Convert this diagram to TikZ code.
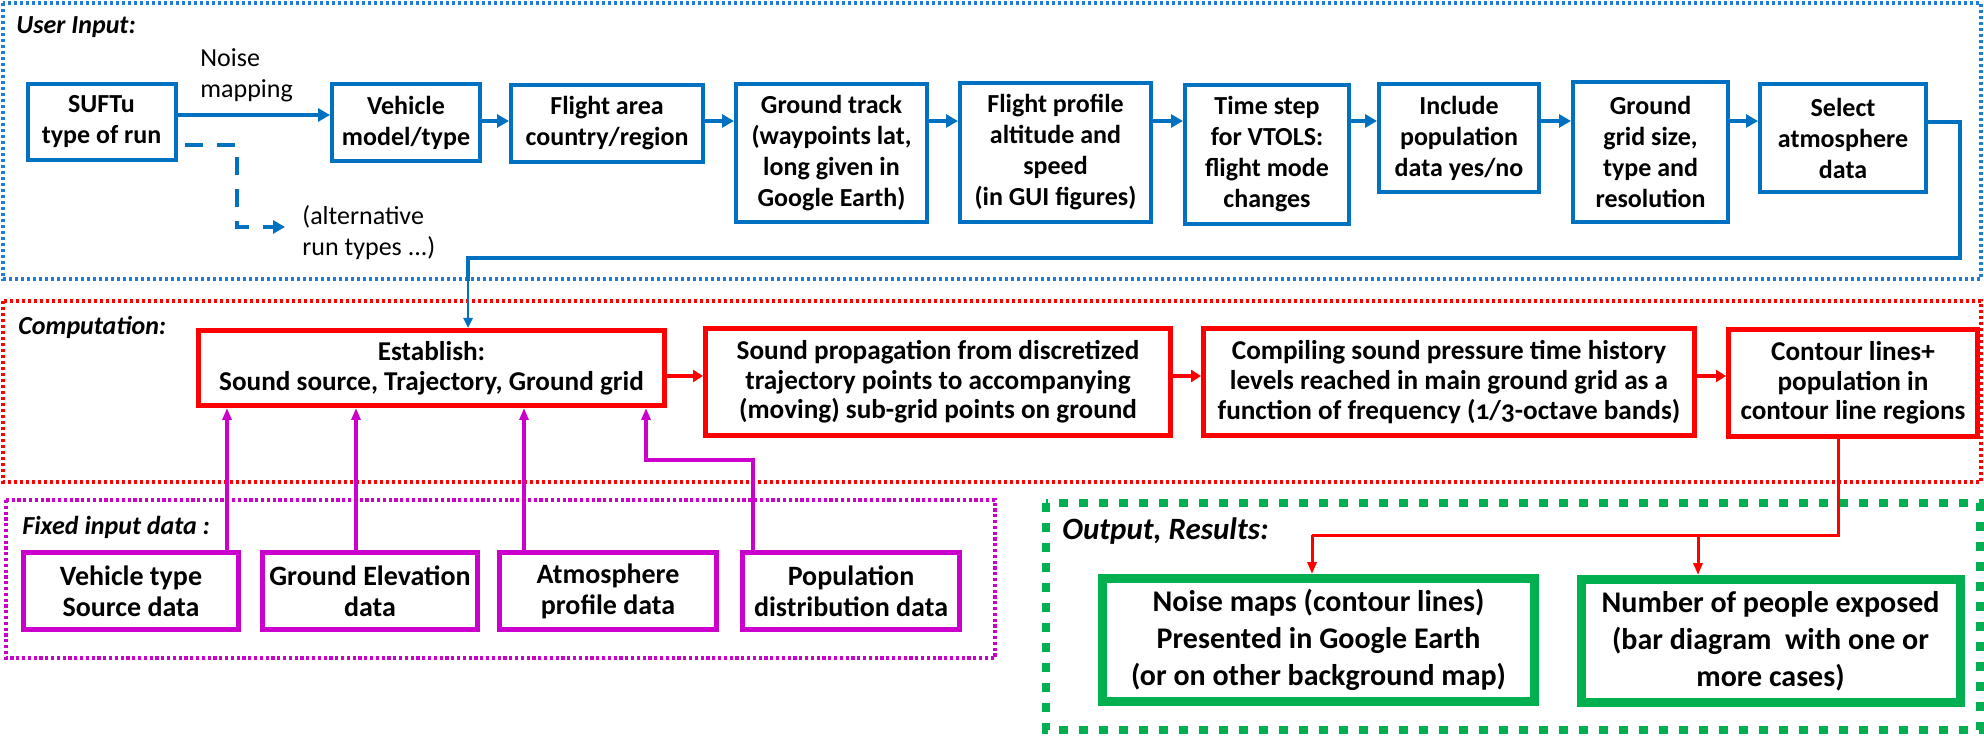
\documentclass[tikz,border=0pt]{standalone}
\usepackage{fontspec}
\setmainfont{Carlito}
\usetikzlibrary{arrows.meta,calc}
\definecolor{ublue}{RGB}{0,112,192}
\definecolor{fblue}{RGB}{30,125,215}
\definecolor{cred}{RGB}{255,0,0}
\definecolor{cmag}{RGB}{204,0,204}
\definecolor{cgreen}{RGB}{0,176,80}
\tikzset{
  sz/.style 2 args={minimum width=#1*0.5pt, minimum height=#2*0.5pt},
  basebox/.style={align=center, inner sep=1pt, text=black},
  ubox/.style={basebox, draw=ublue, line width=2pt, font=\bfseries\fontsize{13}{15.5}\selectfont},
  cbox/.style={basebox, draw=cred, line width=2.5pt, font=\bfseries\fontsize{13.6}{14.8}\selectfont},
  fbox/.style={basebox, draw=cmag, line width=2.5pt, font=\bfseries\fontsize{14}{15.5}\selectfont},
  obox/.style={basebox, draw=cgreen, line width=4.5pt, font=\bfseries\fontsize{15}{18.5}\selectfont},
  ftitle/.style={anchor=west, inner sep=0pt, font=\bfseries\itshape\fontsize{13}{15}\selectfont},
  plain/.style={anchor=west, inner sep=0pt, align=left, font=\fontsize{13}{15.5}\selectfont},
  ufr/.style={draw=fblue, line width=2.2pt, dash pattern=on 1.7pt off 1.3pt},
  cfr/.style={draw=cred, line width=2pt, dash pattern=on 1.7pt off 1.3pt},
  mfr/.style={draw=cmag, line width=1.6pt, dash pattern=on 1.6pt off 1.3pt},
  gfr/.style={draw=cgreen, line width=4pt, dash pattern=on 4.5pt off 5.5pt},
  uarrow/.style={draw=ublue, line width=2pt, -{Triangle[length=6pt,width=6.5pt]}},
  uline/.style={draw=ublue, line width=2pt},
  uthin/.style={draw=ublue, line width=1.2pt, -{Triangle[length=5pt,width=4.5pt]}},
  udash/.style={draw=ublue, line width=2pt, dash pattern=on 9pt off 7pt, -{Triangle[length=6pt,width=6.5pt]}},
  carrow/.style={draw=cred, line width=2pt, -{Triangle[length=5pt,width=6pt]}},
  cline/.style={draw=cred, line width=1.5pt},
  cout/.style={draw=cred, line width=1.5pt, -{Triangle[length=6pt,width=4.5pt]}},
  marrow/.style={draw=cmag, line width=1.6pt, -{Triangle[length=6pt,width=4.5pt]}},
}
\begin{document}
\begin{tikzpicture}[x=0.5pt,y=-0.5pt]
\useasboundingbox (0,0) rectangle (1984,742);

% frames
\draw[ufr] (3,3) rectangle (1981,279);
\draw[cfr] (3,301) rectangle (1981,482);
\draw[mfr] (6,500) rectangle (995,658);
\draw[gfr] (1046,503) rectangle (1980,730);

\node[ftitle] (tuser) at (16,27) {User Input:};
\node[ftitle] (tcomp) at (18,327) {Computation:};
\node[ftitle] (tfix) at (22,527) {Fixed input data :};
\node[ftitle, font=\bfseries\itshape\fontsize{15.5}{17}\selectfont] (tout) at (1062,531) {Output, Results:};

% top row
\node[ubox, sz={148}{76}] (suftu) at (101.5,122) {SUFTu\\type of run};
\node[ubox, sz={148}{77}] (vehicle) at (406,122.5) {Vehicle\\model/type};
\node[ubox, sz={192}{77}] (area) at (607,123.5) {Flight area\\country/region};
\node[ubox, sz={191}{138}] (track) at (831.5,153) {Ground track\\(waypoints lat,\\long given in\\Google Earth)};
\node[ubox, sz={191}{139}] (profile) at (1055.5,152.5) {Flight profile\\altitude and\\speed\\(in GUI figures)};
\node[ubox, sz={164}{139}] (timestep) at (1267,154.5) {Time step\\for VTOLS:\\flight mode\\changes};
\node[ubox, sz={160}{108}] (incl) at (1459,138) {Include\\population\\data yes/no};
\node[ubox, sz={155}{140}] (grid) at (1650.5,152) {Ground\\grid size,\\type and\\resolution};
\node[ubox, sz={166}{108}] (atmos) at (1843,138) {Select\\atmosphere\\data};

\node[plain] (noiselbl) at (200,75) {Noise\\mapping};
\node[plain] (altlbl) at (302,233) {(alternative\\run types ...)};

\coordinate (ya) at (0,115);
\coordinate (yb) at (0,121);
\draw[uarrow] (suftu.east |- ya) -- (vehicle.west |- ya);
\draw[uarrow] (vehicle.east |- yb) -- (area.west |- yb);
\draw[uarrow] (area.east |- yb) -- (track.west |- yb);
\draw[uarrow] (track.east |- yb) -- (profile.west |- yb);
\draw[uarrow] (profile.east |- yb) -- (timestep.west |- yb);
\draw[uarrow] (timestep.east |- yb) -- (incl.west |- yb);
\draw[uarrow] (incl.east |- yb) -- (grid.west |- yb);
\draw[uarrow] (grid.east |- yb) -- (atmos.west |- yb);

% dashed alternative
\coordinate (d0) at (185,145);
\coordinate (d1) at (237,145);
\coordinate (d2) at (237,227);
\coordinate (d3) at (285,227);
\draw[udash] (d0) -- (d1) -- (d2) -- (d3);

% return line
\coordinate (r0) at (0,122);
\coordinate (r1) at (1960,122);
\coordinate (r2) at (1960,258);
\coordinate (r3) at (468,258);
\coordinate (r4) at (468,281);
\draw[uline] (atmos.east |- r0) -- (r1) -- (r2) -- (r3) -- (r4);

% computation row
\node[cbox, sz={466}{75}] (establish) at (431.5,368) {Establish:\\Sound source, Trajectory, Ground grid};
\node[cbox, sz={465}{107}] (soundprop) at (938,382) {Sound propagation from discretized\\trajectory points to accompanying\\(moving) sub-grid points on ground};
\node[cbox, sz={491}{107}] (compiling) at (1449,382) {Compiling sound pressure time history\\levels reached in main ground grid as a\\function of frequency ({\addfontfeatures{Numbers=OldStyle}1/3}-octave bands)};
\node[cbox, sz={249}{107}] (contour) at (1853,383) {Contour lines+\\population in\\contour line regions};

\draw[uthin] (r4) -- (establish.north -| r4);

\coordinate (yc) at (0,376);
\draw[carrow] (establish.east |- yc) -- (soundprop.west |- yc);
\draw[carrow] (soundprop.east |- yc) -- (compiling.west |- yc);
\draw[carrow] (compiling.east |- yc) -- (contour.west |- yc);

% fixed input row
\node[fbox, sz={215}{77}] (vtype) at (131,591) {Vehicle type\\Source data};
\node[fbox, sz={215}{77}] (gelev) at (370,591) {Ground Elevation\\data};
\node[fbox, sz={217}{77}] (atmprof) at (608,591) {Atmosphere\\profile data};
\node[fbox, sz={217}{77}] (popdist) at (851,591) {Population\\distribution data};

\coordinate (m1) at (227,0);
\coordinate (m2) at (356,0);
\coordinate (m3) at (524,0);
\coordinate (m4a) at (753,460);
\coordinate (m4b) at (646,460);
\draw[marrow] (vtype.north -| m1) -- (establish.south -| m1);
\draw[marrow] (gelev.north -| m2) -- (establish.south -| m2);
\draw[marrow] (atmprof.north -| m3) -- (establish.south -| m3);
\draw[marrow] (popdist.north -| m4a) -- (m4a) -- (m4b) -- (establish.south -| m4b);

% output row
\node[obox, sz={432}{123}] (noisemaps) at (1318.5,640) {Noise maps (contour lines)\\Presented in Google Earth\\(or on other background map)};
\node[obox, sz={379}{123}] (people) at (1770.5,641) {Number of people exposed\\(bar diagram~ with one or\\more cases)};

\coordinate (o0) at (1838,0);
\coordinate (o1) at (1838,535);
\coordinate (o2) at (1312,535);
\coordinate (o3) at (1698,535);
\draw[cline] (contour.south -| o0) -- (o1) -- (o2);
\draw[cout] (o2) -- (noisemaps.north -| o2);
\draw[cout] (o3) -- (people.north -| o3);
\end{tikzpicture}
\end{document}
